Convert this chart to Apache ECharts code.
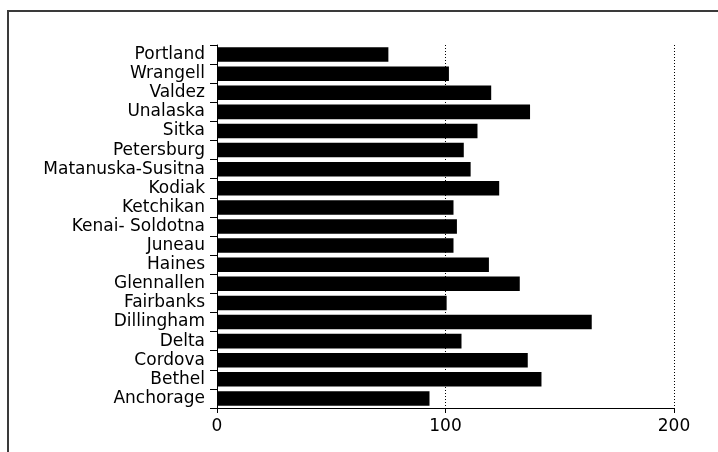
<!DOCTYPE html>
<html>
<head>
<meta charset="utf-8">
<script src="https://cdn.jsdelivr.net/npm/echarts@6/dist/echarts.min.js"></script>
<style>html,body{margin:0;padding:0;background:#fff}#c{width:718px;height:452px}</style>
</head>
<body>
<div id="c"></div>
<script>
// Categories listed bottom to top (as drawn on the category axis)
var categories = ["Anchorage","Bethel","Cordova","Delta","Dillingham","Fairbanks","Glennallen","Haines","Juneau","Kenai- Soldotna","Ketchikan","Kodiak","Matanuska-Susitna","Petersburg","Sitka","Unalaska","Valdez","Wrangell","Portland"];
var values = [93, 142, 136, 107, 164, 100.5, 132.5, 119, 103.5, 105, 103.5, 123.5, 111, 108, 114, 137, 120, 101.5, 75];
var xTicks = [0, 100, 200];

var chart = echarts.init(document.getElementById('c'), null, {renderer: 'canvas'});
var font = '"DejaVu Sans", sans-serif';
chart.setOption({
  animation: false,
  backgroundColor: '#fff',
  grid: {left: 217, right: 44, top: 45, bottom: 44, containLabel: false},
  graphic: [{
    type: 'rect', silent: true,
    shape: {x: 8, y: 11, width: 800, height: 500},
    style: {fill: 'none', stroke: '#3a3a3a', lineWidth: 2}
  }],
  xAxis: {
    type: 'value', min: xTicks[0], max: xTicks[xTicks.length - 1], interval: 100,
    axisLine: {show: true, lineStyle: {color: '#000', width: 1}},
    axisTick: {show: true, length: 5, lineStyle: {color: '#000'}},
    axisLabel: {color: '#000', fontFamily: font, fontSize: 17, margin: 10},
    splitLine: {show: true, lineStyle: {color: '#000', type: [1, 2], width: 1}}
  },
  yAxis: {
    type: 'category', data: categories,
    axisLine: {show: true, lineStyle: {color: '#000', width: 1}},
    axisTick: {show: true, length: 7, interval: 0, lineStyle: {color: '#000'}},
    axisLabel: {color: '#000', fontFamily: font, fontSize: 17, margin: 12, interval: 0, hideOverlap: false},
    splitLine: {show: false}
  },
  series: [{
    type: 'bar', data: values, barCategoryGap: '24%',
    itemStyle: {color: '#000'},
    silent: true
  }]
});
</script>
</body>
</html>
